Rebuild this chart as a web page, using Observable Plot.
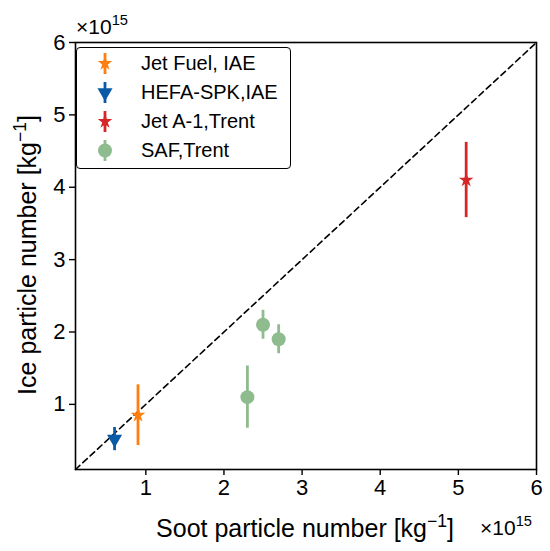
<!DOCTYPE html>
<html>
<head>
<meta charset="utf-8">
<script src="https://cdn.jsdelivr.net/npm/d3@7"></script>
<script src="https://cdn.jsdelivr.net/npm/@observablehq/plot@0.6"></script>
<style>
  body { margin: 0; background: white; }
  #wrap { position: relative; width: 550px; height: 551px; font-family: "Liberation Sans", Arial, sans-serif; }
  #legend { position: absolute; left: 76px; top: 47px; width: 215px; height: 122px; border: 1.5px solid #000; border-radius: 4px; background: rgba(255,255,255,0.8); box-sizing: border-box; }
  .row { position: absolute; left: 0; height: 29px; }
  .row svg { position: absolute; left: 16px; top: 0; }
  .row span { position: absolute; left: 64px; top: 0; font-size: 20px; white-space: nowrap; line-height: 29px; }
</style>
</head>
<body>
<div id="wrap"><div id="legend"></div></div>
<script>
const series = ["Jet Fuel, IAE", "HEFA-SPK,IAE", "Jet A-1,Trent", "SAF,Trent", "SAF,Trent", "SAF,Trent"];
const sootX = [0.9, 0.6, 5.1, 2.3, 2.5, 2.7];
const iceY = [0.85, 0.52, 4.1, 1.1, 2.1, 1.9];
const iceErr = [0.42, 0.16, 0.52, 0.43, 0.2, 0.2];
const legendNames = ["Jet Fuel, IAE", "HEFA-SPK,IAE", "Jet A-1,Trent", "SAF,Trent"];
const colors = ["#ff7f0e", "#0b5aa8", "#d62728", "#8fbc8f"];
const symbols = ["star", "triangle", "star", "circle"];
const rotations = [0, 180, 0, 0];
const sizes = [4.6, 5.6, 4.6, 7];
const axisTicks = [1, 2, 3, 4, 5, 6];
const diagonal = [0.1, 6];

const data = series.map((s, i) => ({ s, x: sootX[i], y: iceY[i], lo: iceY[i] - iceErr[i], hi: iceY[i] + iceErr[i] }));
const idx = s => legendNames.indexOf(s);

const marks = [
  Plot.line(diagonal.map(v => ({ x: v, y: v })), { x: "x", y: "y", stroke: "black", strokeWidth: 1.6, strokeDasharray: "6,4" }),
  Plot.ruleX(data, { x: "x", y1: "lo", y2: "hi", stroke: d => colors[idx(d.s)], strokeWidth: 2.8 })
];
legendNames.forEach((name, k) => {
  marks.push(Plot.dot(data.filter(d => d.s === name), {
    x: "x", y: "y", symbol: symbols[k], r: sizes[k], fill: colors[k], stroke: "none", rotate: rotations[k]
  }));
});
marks.push(
  Plot.axisX({ ticks: axisTicks, tickFormat: "d", tickSize: 6, tickPadding: 4, label: null, fontSize: 22 }),
  Plot.axisY({ ticks: axisTicks, tickFormat: "d", tickSize: 6, tickPadding: 4, label: null, fontSize: 22 }),
  Plot.frame({ stroke: "black", strokeWidth: 1.6 })
);

const chart = Plot.plot({
  width: 550, height: 551,
  marginLeft: 75, marginRight: 14, marginTop: 42, marginBottom: 82,
  x: { domain: [0.1, 6] },
  y: { domain: [0.1, 6] },
  style: { fontFamily: "Liberation Sans, Arial, sans-serif", fontSize: "22px", color: "black", background: "white" },
  marks
});
chart.style.position = "absolute";
chart.style.left = "0"; chart.style.top = "0";
document.getElementById("wrap").prepend(chart);

const svg = d3.select(chart);
svg.selectAll("g[aria-label='x-axis tick'], g[aria-label='y-axis tick']").attr("stroke", "black").attr("stroke-width", 1.4);

function supText(x, y, base, sup, tail, size, anchor, rotate) {
  const t = svg.append("text").attr("x", x).attr("y", y).attr("font-size", size)
    .attr("font-family", "Liberation Sans, Arial, sans-serif").attr("fill", "black")
    .attr("text-anchor", anchor);
  if (rotate) t.attr("transform", `rotate(-90 ${x} ${y})`);
  t.append("tspan").text(base);
  t.append("tspan").attr("font-size", size * 0.7).attr("dy", -size * 0.42).text(sup);
  if (tail) t.append("tspan").attr("dy", size * 0.42).text(tail);
  return t;
}
supText(305, 537, "Soot particle number [kg", "\u22121", "]", 25, "middle", false);
supText(36, 255, "Ice particle number [kg", "\u22121", "]", 25, "middle", true);
supText(76, 34, "\u00d710", "15", null, 21, "start", false);
supText(480, 535, "\u00d710", "15", null, 21, "start", false);

const legend = document.getElementById("legend");
legendNames.forEach((name, k) => {
  const row = document.createElement("div");
  row.className = "row";
  row.style.top = (1 + k * 29) + "px";
  row.style.width = "100%";
  const ns = "http://www.w3.org/2000/svg";
  const s = document.createElementNS(ns, "svg");
  s.setAttribute("width", 24); s.setAttribute("height", 29);
  const line = document.createElementNS(ns, "line");
  line.setAttribute("x1", 12); line.setAttribute("x2", 12);
  line.setAttribute("y1", 4); line.setAttribute("y2", 25);
  line.setAttribute("stroke", colors[k]); line.setAttribute("stroke-width", 2.8);
  s.appendChild(line);
  const symMap = { star: d3.symbolStar, triangle: d3.symbolTriangle, circle: d3.symbolCircle };
  const p = document.createElementNS(ns, "path");
  p.setAttribute("d", d3.symbol(symMap[symbols[k]], Math.PI * sizes[k] * sizes[k])());
  p.setAttribute("transform", `translate(12,14.5) rotate(${rotations[k]})`);
  p.setAttribute("fill", colors[k]);
  s.appendChild(p);
  row.appendChild(s);
  const sp = document.createElement("span");
  sp.textContent = name;
  row.appendChild(sp);
  legend.appendChild(row);
});
</script>
</body>
</html>
